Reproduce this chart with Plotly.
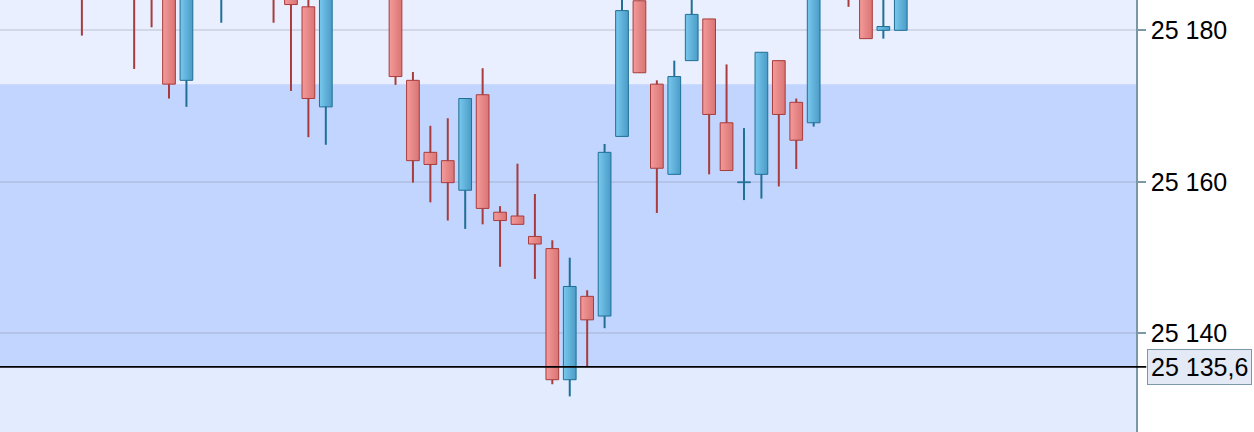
import plotly.graph_objects as go

# candle slots (bar index), open / high / low / close
slot = [0, 3, 4, 5, 6, 8, 11, 12, 13, 14, 18, 19, 20, 21, 22, 23, 24, 25, 26, 27,
        28, 29, 30, 31, 32, 33, 34, 35, 36, 37, 38, 39, 40, 41, 42, 44, 45, 46, 47]
open_ = [25192, 25190, 25189, 25188, 25173.4, 25186, 25192, 25190, 25183.1, 25169.9,
         25186, 25173.4, 25163.9, 25162.8, 25158.9, 25171.5, 25156.0, 25155.5, 25152.8, 25151.2,
         25133.9, 25144.9, 25142.3, 25166.0, 25183.9, 25172.9, 25161.0, 25176.0, 25181.5, 25167.8,
         25159.9, 25161.0, 25176.0, 25170.5, 25167.8, 25192, 25188, 25180.0, 25180.0]
high = [25194, 25192, 25191, 25190, 25192, 25193, 25195, 25192, 25187, 25190,
        25188, 25174.5, 25167.4, 25168.4, 25171.0, 25175.0, 25156.8, 25162.4, 25158.4, 25152.3,
        25150.0, 25145.7, 25165.0, 25187, 25183.9, 25173.4, 25176.0, 25188, 25181.5, 25175.5,
        25167.1, 25177.1, 25176.0, 25171.0, 25195, 25194, 25190, 25186, 25190]
low = [25179.3, 25174.9, 25180.4, 25171.0, 25169.9, 25181.0, 25181.0, 25172.0, 25165.9, 25164.9,
       25172.8, 25159.9, 25157.3, 25154.9, 25153.8, 25154.4, 25148.8, 25154.4, 25147.2, 25133.3,
       25131.7, 25135.6, 25140.7, 25166.0, 25174.4, 25155.9, 25161.0, 25176.0, 25161.0, 25161.5,
       25157.6, 25157.8, 25159.4, 25161.7, 25167.3, 25183.1, 25178.9, 25178.9, 25180.0]
close = [25188, 25186, 25185, 25172.9, 25189, 25190, 25186, 25183.4, 25171.0, 25188,
         25173.9, 25162.8, 25162.3, 25159.9, 25171.0, 25156.5, 25154.9, 25154.4, 25151.8, 25133.9,
         25146.2, 25141.8, 25163.9, 25182.6, 25174.4, 25161.8, 25173.9, 25182.1, 25168.9, 25161.5,
         25160.0, 25177.1, 25168.9, 25165.5, 25190, 25187, 25178.9, 25180.5, 25186]

last_price = 25135.6
zone_low = 25135.6
zone_high = 25172.9
y_range = [25127.0, 25184.0]
x_range = [-4.7, 60.5]

body_half = 0.365  # half body width, in bar slots

red_grad, red_line = ["#f49a9a", "#d97474"], "#a83c3c"
blue_grad, blue_line = ["#78c8ee", "#4a9bc6"], "#1f6f96"

fig = go.Figure()

# wicks
for up, col in [(False, red_line), (True, blue_line)]:
    wx, wy = [], []
    for s, o, h, l, c in zip(slot, open_, high, low, close):
        if (c > o) == up:
            wx += [s, s, None]
            wy += [l, h, None]
    fig.add_trace(go.Scatter(x=wx, y=wy, mode="lines", line=dict(color=col, width=2),
                             hoverinfo="skip", showlegend=False))

# bodies with a left-to-right shading
for s, o, c in zip(slot, open_, close):
    up = c > o
    grad, col = (blue_grad, blue_line) if up else (red_grad, red_line)
    x0, x1 = s - body_half, s + body_half
    fig.add_trace(go.Scatter(
        x=[x0, x1, x1, x0, x0], y=[o, o, c, c, o],
        mode="lines", fill="toself",
        fillgradient=dict(type="horizontal", colorscale=[[0, grad[0]], [1, grad[1]]]),
        line=dict(color=col, width=1), hoverinfo="skip", showlegend=False,
    ))

fig.add_shape(type="rect", xref="paper", x0=0, x1=1, y0=zone_high, y1=y_range[1] + 10,
              fillcolor="#e9effe", line_width=0, layer="below")
fig.add_shape(type="rect", xref="paper", x0=0, x1=1, y0=zone_low, y1=zone_high,
              fillcolor="#c2d5fe", line_width=0, layer="below")
fig.add_shape(type="line", xref="paper", x0=0, x1=1.009, y0=last_price, y1=last_price,
              line=dict(color="black", width=1.7), layer="above")

price_txt = f"{last_price:,.1f}".replace(",", " ").replace(".", ",")
fig.add_annotation(xref="paper", x=1.0095, xanchor="left", y=last_price, yanchor="middle",
                   text=price_txt, showarrow=False,
                   font=dict(family="Liberation Sans", size=25, color="black"),
                   bgcolor="#e4eaf5", bordercolor="#7c98a8", borderwidth=1, borderpad=3)

fig.update_layout(
    width=1254, height=432,
    margin=dict(l=0, r=118, t=0, b=0),
    paper_bgcolor="white",
    plot_bgcolor="#e3ebff",
    separators=", ",
    showlegend=False,
    font=dict(family="Liberation Sans", size=25, color="black"),
    xaxis=dict(range=x_range, visible=False),
    yaxis=dict(range=y_range, side="right", dtick=20, tickformat=",.0f",
               showgrid=True, gridcolor="rgba(130,138,160,0.22)", gridwidth=1.6,
               zeroline=False, showline=True, linecolor="#7c98a8", linewidth=1.5,
               ticks="outside", ticklen=8, tickcolor="#7c98a8", tickwidth=1.5),
)

fig.write_html("out.html", config={"displayModeBar": False},
               post_script="document.body.style.margin='0';")
